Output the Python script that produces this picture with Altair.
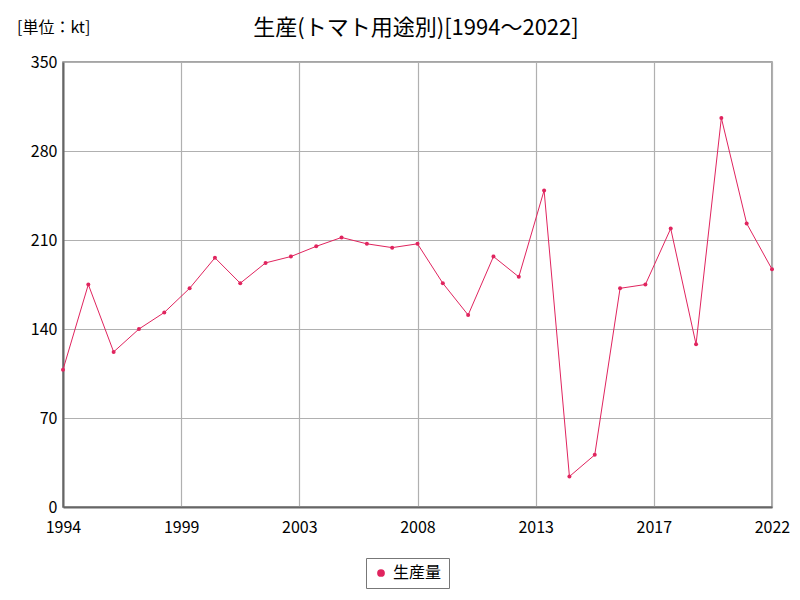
import altair as alt
import pandas as pd

years = list(range(1994, 2023))
values = [108, 175, 122, 140, 153, 172, 196, 176, 192, 197, 205, 212, 207, 204, 207,
          176, 151, 197, 181, 249, 24, 41, 172, 175, 219, 128, 306, 223, 187]
series = ["生産量"] * len(years)

x_ticks = [1994 + i * 28 / 6 for i in range(7)]
y_ticks = [0, 70, 140, 210, 280, 350]

df = pd.DataFrame({"年": years, "値": values, "系列": series})
one = pd.DataFrame({"k": [0]})

FONT = "Noto Sans CJK JP"
RED = "#e0245e"

x = alt.X("年:Q", scale=alt.Scale(domain=[1994, 2022], nice=False, zero=False),
          axis=alt.Axis(values=x_ticks, labelExpr="round(datum.value)", title=None,
                        labelFlush=False))
y = alt.Y("値:Q", scale=alt.Scale(domain=[0, 350], nice=False),
          axis=alt.Axis(values=y_ticks, title=None))

line = alt.Chart(df).mark_line(color=RED, strokeWidth=1).encode(x=x, y=y)
pts = alt.Chart(df).mark_circle(size=16, opacity=1).encode(
    x=x, y=y,
    color=alt.Color("系列:N", scale=alt.Scale(range=[RED]),
                    legend=alt.Legend(title=None, orient="none", legendX=303, legendY=496,
                                      strokeColor="#777", padding=7, symbolType="circle",
                                      symbolSize=60, labelFontSize=16, labelFont=FONT,
                                      labelColor="#000"))
)
unit = alt.Chart(one).mark_text(text="[単位：kt]", font=FONT, fontSize=16, fontWeight="normal",
                                align="left", baseline="middle", color="#000").encode(
    x=alt.value(-46), y=alt.value(-34))
title = alt.Chart(one).mark_text(text="生産(トマト用途別)[1994～2022]", font=FONT, fontSize=22,
                                 fontWeight="normal", align="center", baseline="middle",
                                 color="#000").encode(
    x=alt.value(353), y=alt.value(-34))

chart = alt.layer(line, pts, unit, title).properties(
    width=709, height=445,
    autosize=alt.AutoSizeParams(type="none"),
    padding={"left": 55, "top": 54, "right": 20, "bottom": 84},
).configure_view(stroke="#888", strokeWidth=1.5).configure_axis(
    grid=True, gridColor="#b0b0b0", gridWidth=1.2, ticks=False,
    domainColor="#666", domainWidth=2, labelFont=FONT, labelFontSize=16,
    labelColor="#000", labelPadding=6
).configure_axisX(labelPadding=12)

chart.save("out.html", embed_options={"renderer": "svg", "actions": False})
